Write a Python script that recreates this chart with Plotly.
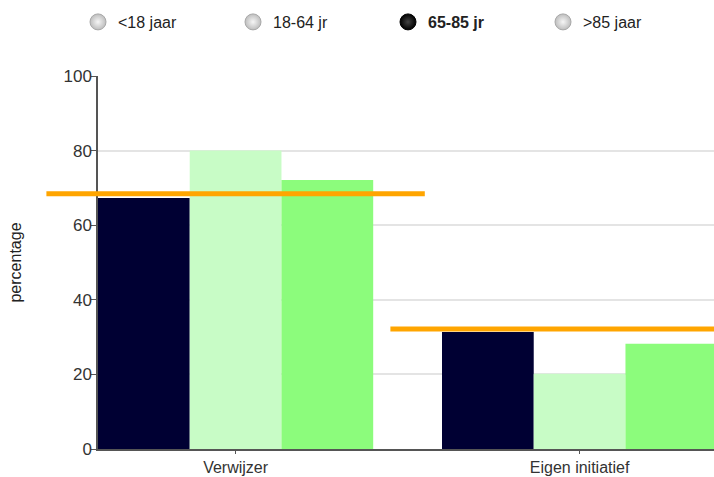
import plotly.graph_objects as go

# ---- data ----
categories = ["Verwijzer", "Eigen initiatief"]
series_names = ["65-85 jr", "Vergelijking 1", "Vergelijking 2"]
series_values = [
    [67.3, 31.4],
    [80.0, 20.2],
    [72.1, 28.2],
]
average_values = [68.4, 32.2]
legend_labels = ["<18 jaar", "18-64 jr", "65-85 jr", ">85 jaar"]
legend_selected = "65-85 jr"
y_ticks = [0, 20, 40, 60, 80, 100]

# ---- style / layout ----
bar_colors = ["#000033", "#C8FCC6", "#8CFC7C"]
avg_color = "#FFA500"
W, H = 714, 477
axis_left_px = 98
px_per_cat = 344
x0 = -0.4
x_right = x0 + (W - axis_left_px) / px_per_cat
x2_left = x0 - axis_left_px / px_per_cat
avg_half = 0.55
font = "Liberation Sans, Arial, sans-serif"

fig = go.Figure()

for name, vals, col in zip(series_names, series_values, bar_colors):
    fig.add_trace(go.Bar(x=categories, y=vals, name=name, marker_color=col,
                         marker_line_width=0, showlegend=False,
                         xaxis="x", yaxis="y"))

# average lines on an invisible overlay subplot that extends left of the y axis
ax, ay = [], []
for i, v in enumerate(average_values):
    ax += [i - avg_half, i + avg_half, None]
    ay += [v, v, None]
fig.add_trace(go.Scatter(x=ax, y=ay, mode="lines", showlegend=False,
                         line=dict(color=avg_color, width=5),
                         xaxis="x2", yaxis="y2", hoverinfo="skip"))

# radio-button style legend
for lab in legend_labels:
    sel = lab == legend_selected
    fig.add_trace(go.Scatter(
        x=[None], y=[None], mode="markers",
        name=f"<b>{lab}</b>" if sel else lab,
        marker=dict(size=19, symbol="circle",
                    color="#000000" if sel else "#BDBDBD",
                    gradient=dict(type="radial", color="#444444" if sel else "#F6F6F6"),
                    line=dict(color="#000000" if sel else "#A8A8A8", width=1)),
        xaxis="x", yaxis="y"))

fig.update_layout(
    width=W, height=H,
    margin=dict(l=0, r=0, t=76, b=28, autoexpand=False),
    paper_bgcolor="white", plot_bgcolor="rgba(0,0,0,0)",
    barmode="group", bargap=0.2, bargroupgap=0,
    font=dict(family=font, color="#333333", size=16),
    xaxis=dict(domain=[axis_left_px / W, 1], type="category",
               categoryorder="array", categoryarray=categories,
               range=[x0, x_right], showline=True, linecolor="#555555", linewidth=1.5,
               ticks="outside", ticklen=3, tickcolor="#555555",
               tickfont=dict(size=16, color="#333333"), showgrid=False,
               zeroline=False, anchor="y", automargin=False),
    yaxis=dict(range=[0, 100], tickvals=y_ticks, showline=True, linecolor="#555555",
               linewidth=1.5, ticks="outside", ticklen=5, tickcolor="#555555",
               ticklabelstandoff=-4,
               showgrid=True, gridcolor="#E4E4E4", gridwidth=1.5, zeroline=False,
               tickfont=dict(size=17, color="#333333"),
               title=dict(text="percentage", font=dict(size=16, color="#222222"), standoff=38),
               anchor="x", automargin=False),
    xaxis2=dict(domain=[0, 1], range=[x2_left, x_right], visible=False, anchor="y2"),
    yaxis2=dict(domain=[0, 1], range=[0, 100], visible=False, anchor="x2"),
    legend=dict(orientation="h", xref="container", yref="container",
                x=78 / W, y=1 - 22 / H, xanchor="left", yanchor="middle",
                entrywidth=110, font=dict(size=16, color="#222222"),
                bgcolor="rgba(0,0,0,0)", itemclick=False, itemdoubleclick=False),
    showlegend=True,
)

fig.write_html(
    "out.html",
    config={"displayModeBar": False},
    post_script="document.body.style.margin='0';document.body.style.overflow='hidden';",
)
